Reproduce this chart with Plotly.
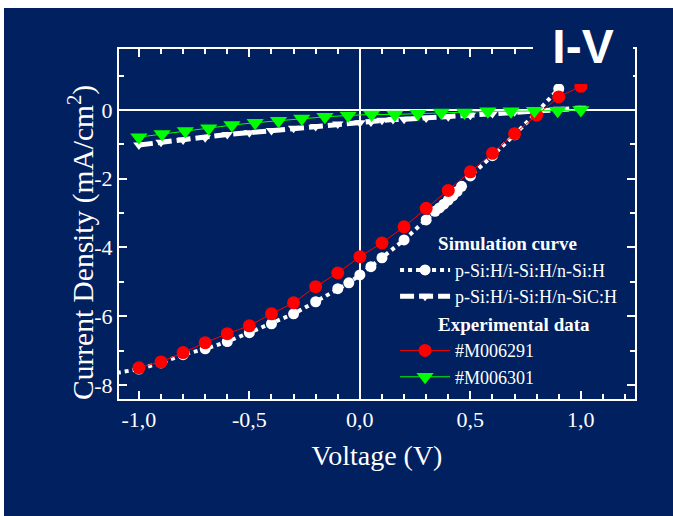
import plotly.graph_objects as go

# ---------------- data ----------------
# Simulation: p-Si:H/i-Si:H/n-Si:H
voltage_sim_si = [-1.1, -1.0, -0.9, -0.8, -0.7, -0.6, -0.5, -0.4, -0.3, -0.2, -0.1, -0.05,
                  0.0, 0.05, 0.1, 0.2, 0.3, 0.34, 0.36, 0.38, 0.40, 0.42, 0.44, 0.46,
                  0.5, 0.6, 0.7, 0.8, 0.9]
current_sim_si = [-7.65, -7.54, -7.36, -7.12, -6.95, -6.74, -6.48, -6.22, -5.93, -5.58, -5.20, -5.03,
                  -4.80, -4.56, -4.30, -3.78, -3.20, -2.95, -2.85, -2.74, -2.62, -2.50, -2.37, -2.22,
                  -1.92, -1.33, -0.72, -0.07, 0.62]

# Simulation: p-Si:H/i-Si:H/n-SiC:H
voltage_sim_sic = [-1.0, -0.9, -0.8, -0.7, -0.6, -0.5, -0.4, -0.3, -0.2, -0.1, 0.0,
                   0.05, 0.1, 0.15, 0.2, 0.3, 0.4, 0.5, 0.6, 0.7, 0.8, 0.9, 1.0]
current_sim_sic = [-1.02, -0.94, -0.87, -0.81, -0.71, -0.66, -0.60, -0.53, -0.48, -0.41, -0.37,
                   -0.35, -0.30, -0.28, -0.27, -0.23, -0.20, -0.15, -0.10, -0.05, -0.01, 0.02, 0.05]

# Experimental #M006291
voltage_m006291 = [-1.0, -0.9, -0.8, -0.7, -0.6, -0.5, -0.4, -0.3, -0.2, -0.1, 0.0,
                   0.1, 0.2, 0.3, 0.4, 0.5, 0.6, 0.7, 0.8, 0.9, 1.0]
current_m006291 = [-7.50, -7.33, -7.06, -6.77, -6.51, -6.28, -5.93, -5.61, -5.14, -4.74, -4.27,
                   -3.87, -3.40, -2.86, -2.34, -1.80, -1.26, -0.69, -0.15, 0.38, 0.69]

# Experimental #M006301
voltage_m006301 = [-1.0, -0.895, -0.79, -0.684, -0.579, -0.474, -0.368, -0.263, -0.158, -0.053,
                   0.053, 0.158, 0.263, 0.368, 0.474, 0.579, 0.684, 0.79, 0.895, 1.0]
current_m006301 = [-0.79, -0.70, -0.61, -0.53, -0.44, -0.37, -0.31, -0.25, -0.20, -0.16,
                   -0.13, -0.13, -0.11, -0.07, -0.07, -0.04, -0.04, -0.02, -0.02, 0.00]

x_tick_values = [-1.0, -0.5, 0.0, 0.5, 1.0]
x_tick_labels = ["-1,0", "-0,5", "0,0", "0,5", "1,0"]
y_tick_values = [0, -2, -4, -6, -8]
y_tick_labels = ["0", "-2", "-4", "-6", "-8"]

NAVY = "#002060"
WHITE = "white"
SERIF = "Liberation Serif"
INDENT = "\u00a0" * 8

fig = go.Figure()

fig.add_trace(go.Scatter(
    x=voltage_sim_si, y=current_sim_si, mode="lines+markers",
    name="p-Si:H/i-Si:H/n-Si:H",
    line=dict(color=WHITE, width=4, dash="dot"),
    marker=dict(symbol="circle", size=11, color=WHITE, line=dict(width=0)),
    legendgroup="sim", legendgrouptitle=dict(text=INDENT + "<b>Simulation curve</b>"),
    cliponaxis=False,
))
fig.add_trace(go.Scatter(
    x=voltage_sim_sic, y=current_sim_sic, mode="lines+markers",
    name="p-Si:H/i-Si:H/n-SiC:H",
    line=dict(color=WHITE, width=5, dash="14px,5px"),
    marker=dict(symbol="triangle-down", size=10, color=WHITE, line=dict(width=0)),
    legendgroup="sim",
))
fig.add_trace(go.Scatter(
    x=voltage_m006291, y=current_m006291, mode="lines+markers",
    name="#M006291",
    line=dict(color="#ff0000", width=1),
    marker=dict(symbol="circle", size=13, color="#ff0000", line=dict(width=0)),
    legendgroup="exp", legendgrouptitle=dict(text=INDENT + "<b>Experimental data</b>"),
))
fig.add_trace(go.Scatter(
    x=voltage_m006301, y=current_m006301, mode="lines+markers",
    name="#M006301",
    line=dict(color="#00ff00", width=1),
    marker=dict(symbol="triangle-down", size=15, color="#00ff00", line=dict(width=0)),
    legendgroup="exp",
))

axis_common = dict(
    showline=True, linecolor=WHITE, linewidth=2, mirror="ticks",
    ticks="inside", tickcolor=WHITE, tickwidth=1.5, ticklen=8,
    showgrid=False, zeroline=True, zerolinecolor=WHITE,
    tickfont=dict(family=SERIF, size=22, color=WHITE),
)

fig.update_layout(
    width=673, height=516,
    margin=dict(l=119, r=38, t=49, b=117),
    paper_bgcolor=WHITE,
    plot_bgcolor=NAVY,
    font=dict(family=SERIF, color=WHITE),
    showlegend=True,
    legend=dict(
        x=0.535, y=0.50, xanchor="left", yanchor="top",
        bgcolor="rgba(0,0,0,0)", traceorder="grouped",
        font=dict(family=SERIF, size=18, color=WHITE),
        grouptitlefont=dict(family=SERIF, size=19, color=WHITE),
        tracegroupgap=0, itemwidth=50,
    ),
    xaxis=dict(
        axis_common, range=[-1.09, 1.245],
        tickmode="array", tickvals=x_tick_values, ticktext=x_tick_labels,
        zerolinewidth=1.5,
        minor=dict(tickmode="linear", tick0=0, dtick=0.1, ticks="inside",
                   ticklen=5, tickcolor=WHITE, tickwidth=1.5),
        title=dict(text="Voltage (V)", font=dict(family=SERIF, size=28, color=WHITE),
                   standoff=14),
    ),
    yaxis=dict(
        axis_common, range=[-8.41, 1.775],
        tickmode="array", tickvals=y_tick_values, ticktext=y_tick_labels,
        zerolinewidth=2,
        minor=dict(tickmode="linear", tick0=0, dtick=1, ticks="inside",
                   ticklen=5, tickcolor=WHITE, tickwidth=1.5),
    ),
    shapes=[dict(
        type="rect", xref="paper", yref="paper", layer="below",
        x0=(4 - 119) / 516, x1=(680 - 119) / 516,
        y0=(399 - 520) / 350, y1=(399 - 8) / 350,
        fillcolor=NAVY, line=dict(width=0),
    )],
    annotations=[
        dict(
            text="<b>I-V</b>", xref="paper", yref="paper",
            x=(583 - 119) / 516, y=(399 - 46) / 350,
            xanchor="center", yanchor="middle",
            width=100, height=76, bgcolor=NAVY, borderpad=0, borderwidth=0,
            showarrow=False, valign="middle",
            font=dict(family="Liberation Sans", size=48, color=WHITE),
        ),
        dict(
            text="Current Density (mA/cm<sup>2</sup>)", xref="paper", yref="paper",
            x=(81 - 119) / 516, y=(399 - 243) / 350,
            xanchor="center", yanchor="middle", textangle=-90, showarrow=False,
            font=dict(family=SERIF, size=29.5, color=WHITE),
        ),
    ],
)

fig.write_html("out.html")
